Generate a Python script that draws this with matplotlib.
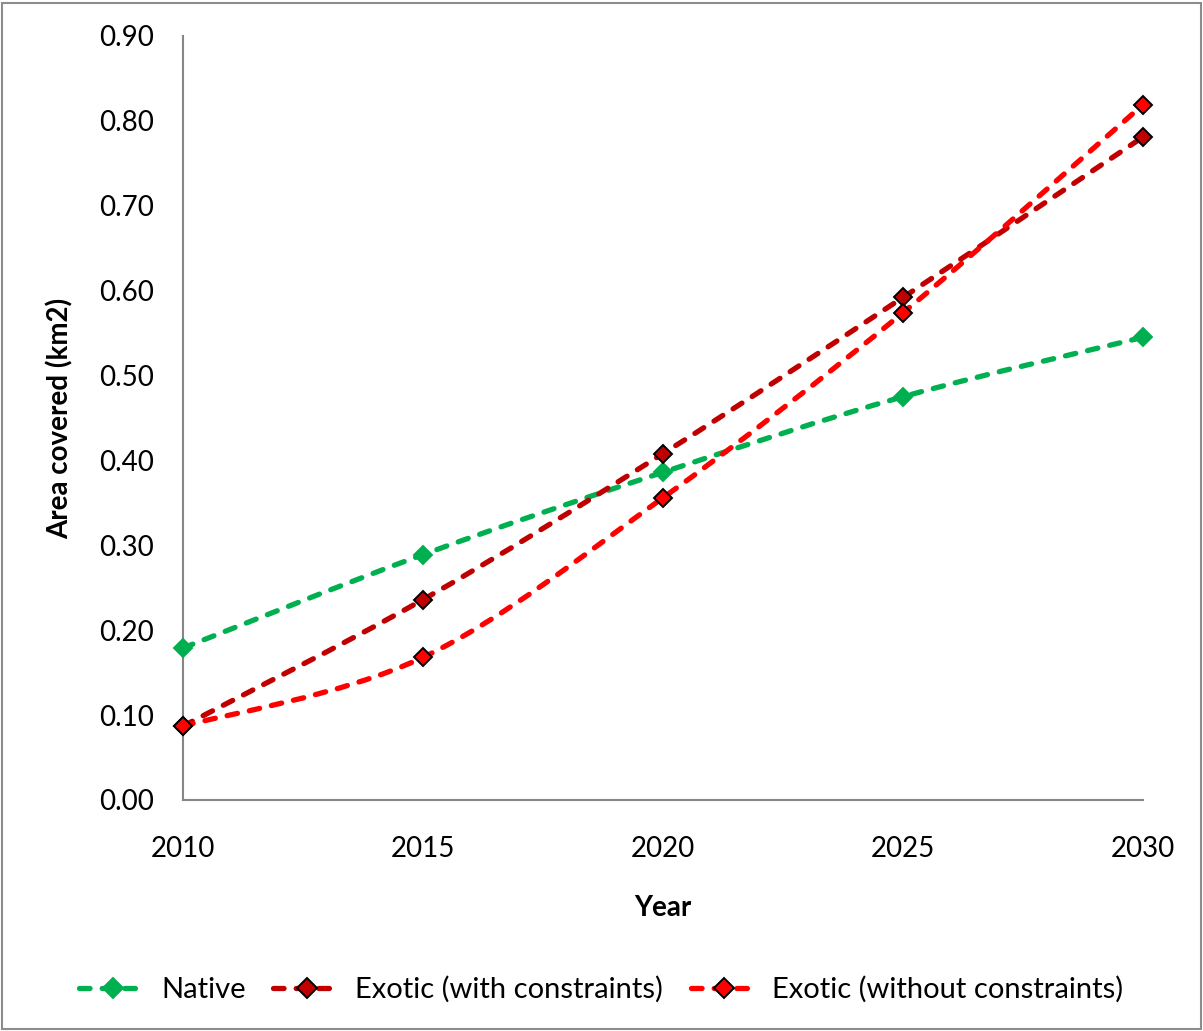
import matplotlib
matplotlib.use("Agg")
import matplotlib.pyplot as plt
from matplotlib.path import Path
from matplotlib.patches import PathPatch, Rectangle
from matplotlib.lines import Line2D
from matplotlib.ticker import FormatStrFormatter

plt.rcParams["font.family"] = ["Lato", "DejaVu Sans"]

years = [2010, 2015, 2020, 2025, 2030]
native = [0.179, 0.289, 0.386, 0.475, 0.545]
exotic_with = [0.087, 0.236, 0.408, 0.592, 0.781]
exotic_without = [0.087, 0.168, 0.356, 0.574, 0.819]

series_labels = ["Native", "Exotic (with constraints)", "Exotic (without constraints)"]
line_colors = ["#00B050", "#C00000", "#FF0000"]
marker_edges = ["#00B050", "black", "black"]

DASH = (0, (2.0, 2.3))
LW = 3.8
MS = 9.5


def smooth_path(xs, ys):
    # Excel-like smoothed line: cubic Bezier segments through the points
    pts = list(zip(xs, ys))
    n = len(pts)
    verts = [pts[0]]
    codes = [Path.MOVETO]
    for i in range(n - 1):
        p0 = pts[i - 1] if i > 0 else pts[i]
        p1 = pts[i]
        p2 = pts[i + 1]
        p3 = pts[i + 2] if i + 2 < n else pts[i + 1]
        c1 = (p1[0] + (p2[0] - p0[0]) / 6, p1[1] + (p2[1] - p0[1]) / 6)
        c2 = (p2[0] - (p3[0] - p1[0]) / 6, p2[1] - (p3[1] - p1[1]) / 6)
        verts += [c1, c2, p2]
        codes += [Path.CURVE4] * 3
    return Path(verts, codes)


fig = plt.figure(figsize=(12.03, 10.31), dpi=100)
ax = fig.add_axes([0.1521, 0.2241, 0.7980, 0.7410])

for ys, col, edge in zip([native, exotic_with, exotic_without], line_colors, marker_edges):
    patch = PathPatch(smooth_path(years, ys), facecolor="none", edgecolor=col,
                      linewidth=LW, linestyle=DASH, capstyle="round", zorder=3)
    ax.add_patch(patch)
    ax.plot(years, ys, ls="none", marker="D", markersize=MS, markerfacecolor=col,
            markeredgecolor=edge, markeredgewidth=1.4, zorder=4, clip_on=False)

ax.set_xlim(2010, 2030)
ax.set_ylim(0, 0.90)
ax.set_xticks(years)
ax.set_yticks([i / 10 for i in range(10)])
ax.yaxis.set_major_formatter(FormatStrFormatter("%.2f"))
ax.tick_params(axis="both", length=0, labelsize=20)
ax.tick_params(axis="y", pad=21)
ax.tick_params(axis="x", pad=26)

for s in ["top", "right"]:
    ax.spines[s].set_visible(False)
for s in ["left", "bottom"]:
    ax.spines[s].set_color("#868686")
    ax.spines[s].set_linewidth(1.5)

ax.set_xlabel("Year", fontsize=20, fontweight="bold", labelpad=24)
ax.set_ylabel("Area covered (km2)", fontsize=20, fontweight="bold", labelpad=18)

handles = [
    Line2D([], [], color=c, lw=LW, ls=DASH, dash_capstyle="round", marker="D",
           markersize=MS + 1, markerfacecolor=c, markeredgecolor=e, markeredgewidth=1.4)
    for c, e in zip(line_colors, marker_edges)
]
fig.legend(handles, series_labels, loc="center", bbox_to_anchor=(0.5, 0.04), ncol=3,
           frameon=False, fontsize=21, handlelength=2.3, handletextpad=0.5,
           columnspacing=0.95)

fig.patches.append(Rectangle((0.002, 0.002), 0.996, 0.995, transform=fig.transFigure,
                             fill=False, edgecolor="#8C8C8C", linewidth=1.5))

fig.savefig("out.png", dpi=100)
